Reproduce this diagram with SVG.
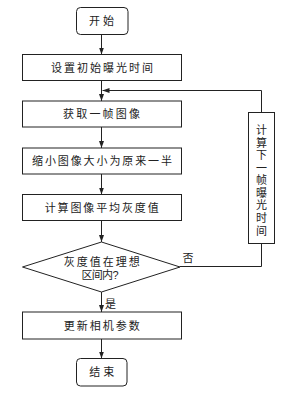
<svg xmlns="http://www.w3.org/2000/svg" width="291" height="395" viewBox="0 0 291 395">
<style>
.box{fill:#fff;stroke:#222;stroke-width:1}
.ln{fill:none;stroke:#222;stroke-width:1}
.ar{marker-end:url(#ah)}
text{font-family:"Liberation Sans","Noto Sans CJK SC",sans-serif;font-size:11px;fill:#222;text-anchor:middle}
</style>
<defs>
<marker id="ah" viewBox="0 0 7 5" markerWidth="7" markerHeight="5" markerUnits="userSpaceOnUse" refX="7" refY="2.5" orient="auto">
<path d="M0,0 L7,2.5 L0,5 z" fill="#222"/>
</marker>
</defs>
<rect width="291" height="395" fill="#fff"/>
<g id="connectors">
<path class="ln ar" d="M101.5,34.5 V54.5"/>
<path class="ln ar" d="M101.5,80.5 V101"/>
<path class="ln ar" d="M101.5,127 V148"/>
<path class="ln ar" d="M101.5,174 V194.5"/>
<path class="ln ar" d="M101.5,220.5 V242"/>
<path class="ln ar" d="M101.5,292 V312"/>
<path class="ln ar" d="M101.5,339 V358.5"/>
<path class="ln" d="M180,266.5 H261.5 V243.5"/>
<path class="ln ar" d="M261.5,112.5 V90.5 H102.5"/>
<text x="188" y="262.2">否</text>
<text x="110.5" y="308.2">是</text>
</g>
<g id="start">
<rect class="box" x="76.5" y="7.5" width="51.5" height="27" rx="4"/>
<text x="101.5" y="25.2" textLength="25" lengthAdjust="spacing">开始</text>
</g>
<g id="set-initial">
<rect class="box" x="22.5" y="54.5" width="159" height="26"/>
<text x="102" y="71.7" textLength="102" lengthAdjust="spacing">设置初始曝光时间</text>
</g>
<g id="acquire">
<rect class="box" x="22.5" y="101" width="159" height="26"/>
<text x="101.5" y="118.2" textLength="77" lengthAdjust="spacing">获取一帧图像</text>
</g>
<g id="shrink">
<rect class="box" x="22.5" y="148" width="159" height="26"/>
<text x="102" y="165.2" textLength="140" lengthAdjust="spacing">缩小图像大小为原来一半</text>
</g>
<g id="mean">
<rect class="box" x="22.5" y="194.5" width="159" height="26"/>
<text x="101.7" y="211.7" textLength="114" lengthAdjust="spacing">计算图像平均灰度值</text>
</g>
<g id="decision">
<path class="box" d="M101.5,242 L180,267 L101.5,292 L22.5,267 Z"/>
<text x="101.8" y="266.2" textLength="76" lengthAdjust="spacing">灰度值在理想</text>
<text x="100" y="279.2" textLength="37" lengthAdjust="spacing">区间内?</text>
</g>
<g id="next-exposure">
<rect class="box" x="248.5" y="112.5" width="26" height="131"/>
<text x="261.5" y="134.2">计</text>
<text x="261.5" y="146.7">算</text>
<text x="261.5" y="159.3">下</text>
<text x="261.5" y="171.8">一</text>
<text x="261.5" y="184.4">帧</text>
<text x="261.5" y="196.9">曝</text>
<text x="261.5" y="209.4">光</text>
<text x="261.5" y="222.0">时</text>
<text x="261.5" y="234.5">间</text>
</g>
<g id="update">
<rect class="box" x="22.5" y="312" width="159" height="27"/>
<text x="101.8" y="329.7" textLength="76" lengthAdjust="spacing">更新相机参数</text>
</g>
<g id="end">
<rect class="box" x="76.5" y="358.5" width="50.5" height="27.5" rx="4"/>
<text x="101.7" y="376.2" textLength="25" lengthAdjust="spacing">结束</text>
</g>
</svg>
